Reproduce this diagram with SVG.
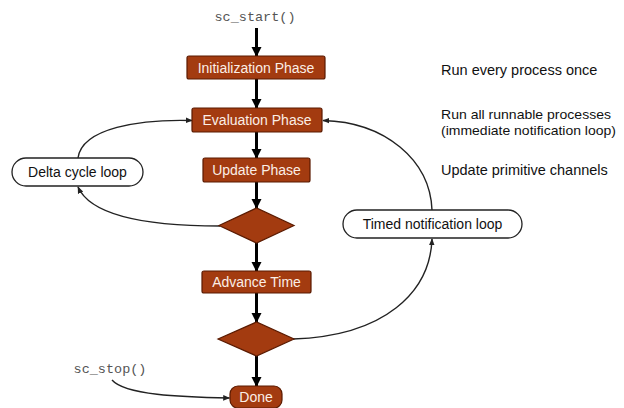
<svg xmlns="http://www.w3.org/2000/svg" width="624" height="408" viewBox="0 0 624 408">
<style>
.box{fill:#a33b10;stroke:#5a1a00;stroke-width:1.2}
.bt{font-family:"Liberation Sans",Arial,sans-serif;font-size:14px;fill:#fbeee6;text-anchor:middle}
.loop{fill:#fff;stroke:#222;stroke-width:1.3}
.lt{font-family:"Liberation Sans",Arial,sans-serif;font-size:14px;fill:#111;text-anchor:middle}
.note{font-family:"Liberation Sans",Arial,sans-serif;font-size:14.5px;fill:#111}
.note2{font-family:"Liberation Sans",Arial,sans-serif;font-size:13.5px;fill:#111}
.code{font-family:"Liberation Mono","Courier New",monospace;font-size:13.5px;fill:#555;text-anchor:middle}
.main{stroke:#000;stroke-width:3;fill:none;marker-end:url(#big)}
.thin{stroke:#222;stroke-width:1.4;fill:none;marker-end:url(#small)}
</style>
<defs>
<marker id="big" viewBox="0 0 10 10" refX="9" refY="5" markerWidth="3.4" markerHeight="3.4" orient="auto" markerUnits="strokeWidth"><path d="M0,0 L10,5 L0,10 z" fill="#000"/></marker>
<marker id="small" viewBox="0 0 10 10" refX="9" refY="5" markerWidth="5" markerHeight="5" orient="auto" markerUnits="strokeWidth"><path d="M0,1 L10,5 L0,9 z" fill="#222"/></marker>
</defs>
<g id="connectors">
<path class="main" d="M256.5,28 V56"/>
<path class="main" d="M256.5,79 V108"/>
<path class="main" d="M256.5,132 V158"/>
<path class="main" d="M256.5,182 V208"/>
<path class="main" d="M256.5,243 V271"/>
<path class="main" d="M256.5,293 V322"/>
<path class="main" d="M256.5,356 V386"/>
<path class="thin" d="M220,226 C140,226 90,214 78,187"/>
<path class="thin" d="M78,158 C82,128 140,119 192,120.5"/>
<path class="thin" d="M293,339 C385,336 430,292 432,239"/>
<path class="thin" d="M432,210 C430,160 385,122 323,120.5"/>
<path class="thin" d="M112,380 C125,395 180,397 229.5,398"/>
</g>
<g id="sc_start"><text class="code" x="255" y="21">sc_start()</text></g>
<g id="sc_stop"><text class="code" x="110" y="373">sc_stop()</text></g>
<g id="init"><rect class="box" x="187" y="56" width="138" height="23" rx="2"/><text class="bt" x="256" y="72.5">Initialization Phase</text></g>
<g id="eval"><rect class="box" x="192" y="108" width="130" height="24" rx="2"/><text class="bt" x="257" y="125">Evaluation Phase</text></g>
<g id="update"><rect class="box" x="203" y="158" width="107" height="24" rx="2"/><text class="bt" x="256.5" y="175">Update Phase</text></g>
<g id="decision1"><polygon class="box" points="219,225.5 256.5,208 294,225.5 256.5,243"/></g>
<g id="advance"><rect class="box" x="202" y="271" width="109" height="22" rx="2"/><text class="bt" x="256.5" y="287">Advance Time</text></g>
<g id="decision2"><polygon class="box" points="218,339 256.5,322 294,339 256.5,356"/></g>
<g id="done"><rect class="box" x="230" y="386" width="52" height="22" rx="8"/><text class="bt" x="256" y="401.5">Done</text></g>
<g id="delta"><rect class="loop" x="12" y="158" width="131" height="28" rx="14"/><text class="lt" x="77.5" y="177">Delta cycle loop</text></g>
<g id="timed"><rect class="loop" x="343" y="210" width="179" height="28" rx="14"/><text class="lt" x="432.5" y="229">Timed notification loop</text></g>
<g id="notes">
<text class="note" x="441" y="75">Run every process once</text>
<text class="note2" x="441" y="119" textLength="170" lengthAdjust="spacingAndGlyphs">Run all runnable processes</text>
<text class="note2" x="441" y="135" textLength="175" lengthAdjust="spacingAndGlyphs">(immediate notification loop)</text>
<text class="note" x="441" y="175">Update primitive channels</text>
</g>
</svg>
